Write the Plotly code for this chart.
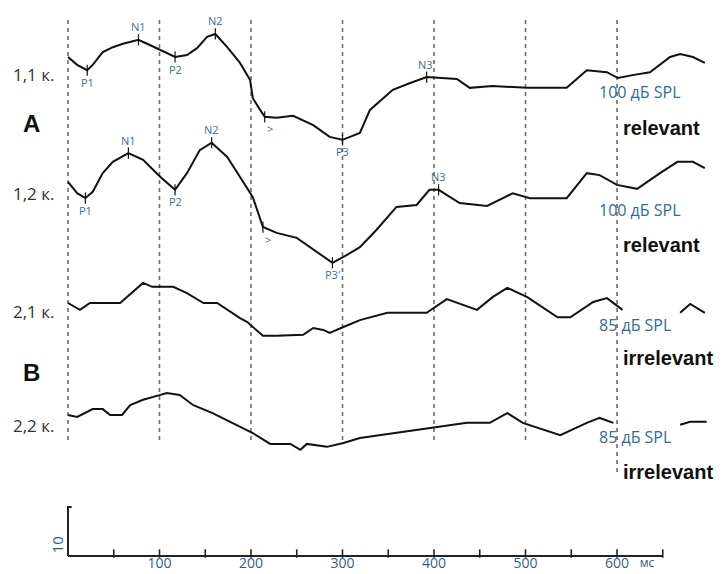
import numpy as np
import plotly.graph_objects as go

# ---- data (time in ms, amplitude in µV) ----
t_11 = [0,10,21,27,38,49,60,77,90,101,117,130,141,152,161,174,188,199,202,210,215,228,246,268,286,300,319,
        330,355,374,392,425,439,464,502,545,567,589,601,617,636,658,669,683,696]
a_11 = [0,-1.6,-2.7,-1.6,1.0,2.0,2.7,3.5,2.4,1.4,0,0.4,1.8,4.1,4.7,2.0,-1.2,-4.7,-8.4,-10.8,-12.2,-12.4,-12.0,-13.9,-16.3,-16.9,-15.5,
        -10.8,-6.7,-5.3,-4.1,-4.5,-6.3,-5.9,-6.3,-6.3,-2.7,-3.1,-4.3,-3.7,-3.1,0,0.6,0,-1.2]

t_12 = [0,10,19,27,38,49,66,82,101,117,130,144,157,174,188,202,213,228,250,268,289,305,319,
        337,359,381,395,405,428,458,486,505,545,567,581,600,622,647,666,683,696]
a_12 = [-0.4,-2.7,-3.7,-2.4,1.4,3.7,5.5,4.1,0.6,-2.0,1.4,6.1,7.6,4.7,0.6,-3.5,-9.6,-10.8,-11.8,-14.1,-16.9,-15.3,-13.7,
        -10.2,-5.5,-5.1,-2.0,-2.0,-4.7,-5.3,-2.7,-3.7,-3.7,1.4,1.0,-1.0,-1.8,1.4,3.7,3.7,2.4]

t_21 = [0,13,24,57,82,92,115,130,148,163,188,196,213,228,257,268,279,286,301,319,
        349,392,414,447,464,480,502,535,549,574,589,606,630,669,680,696]
a_21 = [0,-1.4,0,0,4.1,3.3,3.3,2.0,0,0,-3.1,-3.9,-6.7,-6.7,-6.5,-5.1,-5.5,-6.1,-4.9,-3.5,
        -2.0,-2.0,0.8,-1.4,1.2,3.1,1.2,-2.9,-2.9,0.2,1.0,-1.4,None,-2.0,-0.2,-2.0]

t_22 = [0,10,27,38,46,59,68,82,101,108,122,137,158,180,202,221,243,254,261,283,301,319,
        341,392,436,461,480,497,538,567,581,596,630,669,680,698]
a_22 = [0,-0.4,1.2,1.2,0,0,2.0,3.1,4.1,4.5,4.1,2.0,0.4,-1.6,-3.7,-5.9,-5.9,-7.1,-5.9,-6.5,-5.7,-4.7,
        -4.1,-2.7,-1.6,-1.6,0.4,-1.6,-4.1,-1.6,-0.6,-1.6,None,-2.0,-1.4,-1.4]

row_labels = ["1,1 к.", "1,2 к.", "2,1 к.", "2,2 к."]
level_labels = ["100 дБ SPL", "100 дБ SPL", "85 дБ SPL", "85 дБ SPL"]
cond_labels = ["relevant", "relevant", "irrelevant", "irrelevant"]
group_labels = ["A", "B"]

# peaks: (trace index, label, time ms, above?)
peaks = [
    (0, "P1", 21, False), (0, "N1", 77, True), (0, "P2", 117, False), (0, "N2", 161, True),
    (0, ">", 215, False), (0, "P3", 300, False), (0, "N3'", 392, True),
    (1, "P1", 19, False), (1, "N1", 66, True), (1, "P2", 117, False), (1, "N2", 157, True),
    (1, ">", 213, False), (1, "P3'", 289, False), (1, "N3", 405, True),
]

grid_ms = [0, 100, 200, 300, 400, 500, 600]
tick_ms = [0, 50, 100, 150, 200, 250, 300, 350, 400, 450, 500, 550, 600, 650]
tick_labels = ["100", "200", "300", "400", "500", "600"]
tick_label_ms = [100, 200, 300, 400, 500, 600]
unit_label = "мс"
scale_uv = 10

# ---- layout geometry (reference pixel positions, page has 8px body margin) ----
PAGE_OFF = 8
W, H = 722 - PAGE_OFF, 574 - PAGE_OFF
PX_PER_MS = 0.915
X0_PX = 68 - PAGE_OFF
PX_PER_UV = 4.9
YMAX = H / PX_PER_UV


def py(px):
    return YMAX - (px - PAGE_OFF) / PX_PER_UV


def pxms(px):
    return (px - 68) / PX_PER_MS


def fx(px):
    return (px - PAGE_OFF) / W


def fy(px):
    return 1 - (px - PAGE_OFF) / H


baselines_px = [57, 180, 303, 415]
offsets = [py(b) for b in baselines_px]
axis_y = py(556)

xr = [-X0_PX / PX_PER_MS, (W - X0_PX) / PX_PER_MS]

fig = go.Figure()

# dashed grid lines
for g in grid_ms:
    fig.add_shape(type="line", x0=g, x1=g, y0=py(20), y1=py(472 if g == 600 else 443),
                  line=dict(color="#6e6e6e", width=1.6, dash="4px,4px"), layer="below")

series = [(t_11, a_11), (t_12, a_12), (t_21, a_21), (t_22, a_22)]
for k, (t, a) in enumerate(series):
    y = [None if v is None else v + offsets[k] for v in a]
    fig.add_trace(go.Scatter(x=t, y=y, mode="lines", line=dict(color="#111111", width=2),
                             connectgaps=False, hoverinfo="skip", showlegend=False))

# peak markers and labels
pk_color = "#3f6f8c"
for k, lab, tm, above in peaks:
    t, a = series[k]
    tt = [ti for ti, v in zip(t, a) if v is not None]
    aa = [v for v in a if v is not None]
    yv = float(np.interp(tm, tt, aa)) + offsets[k]
    fig.add_trace(go.Scatter(x=[tm], y=[yv], mode="markers",
                             marker=dict(symbol="line-ns", size=8, line=dict(color="#111", width=1.2)),
                             hoverinfo="skip", showlegend=False))
    fig.add_annotation(x=tm, y=yv, text=lab, showarrow=False,
                       xshift=(5 if lab == ">" else 0),
                       yshift=(13 if above else -12), font=dict(size=11, color=pk_color, family="Open Sans"))

# row labels
row_px = [75, 193, 311, 425]
for lab, yp in zip(row_labels, row_px):
    fig.add_annotation(xref="paper", yref="paper", x=fx(11), y=fy(yp), text=lab, showarrow=False,
                       xanchor="left", yanchor="middle", font=dict(size=17, color="#3a2f2f", family="Open Sans"))

for lab, yp in zip(group_labels, [123, 372]):
    fig.add_annotation(xref="paper", yref="paper", x=fx(21), y=fy(yp), text="<b>%s</b>" % lab,
                       showarrow=False, xanchor="left", yanchor="middle",
                       font=dict(size=24, color="#111", family="Liberation Sans"))

lvl_px = [(597, 92), (597, 210), (597, 325), (597, 437)]
cond_px = [(621, 128), (621, 245), (621, 358), (621, 472)]
for lab, (xp, yp) in zip(level_labels, lvl_px):
    fig.add_annotation(xref="paper", yref="paper", x=fx(xp), y=fy(yp), text=lab, showarrow=False,
                       xanchor="left", yanchor="middle", font=dict(size=16, color="#2f6e96", family="Open Sans"))
for lab, (xp, yp) in zip(cond_labels, cond_px):
    fig.add_annotation(xref="paper", yref="paper", x=fx(xp), y=fy(yp), text="<b>%s</b>" % lab,
                       showarrow=False, xanchor="left", yanchor="middle",
                       font=dict(size=20, color="#111", family="Liberation Sans"))

# bottom axis
fig.add_trace(go.Scatter(x=[tick_ms[0], tick_ms[-1]], y=[axis_y, axis_y], mode="lines",
                         line=dict(color="#222", width=2), hoverinfo="skip", showlegend=False))
fig.add_trace(go.Scatter(x=tick_ms[1:], y=[axis_y + 0.5] * (len(tick_ms) - 1), mode="markers",
                         marker=dict(symbol="line-ns", size=6, line=dict(color="#222", width=1.6)),
                         hoverinfo="skip", showlegend=False))
fig.add_trace(go.Scatter(x=tick_label_ms, y=[py(557)] * len(tick_label_ms), mode="text",
                         text=tick_labels, textposition="bottom center",
                         textfont=dict(size=14, color="#2f5f86", family="Open Sans"),
                         hoverinfo="skip", showlegend=False))
fig.add_trace(go.Scatter(x=[pxms(647)], y=[py(558)], mode="text",
                         text=[unit_label], textposition="bottom center",
                         textfont=dict(size=12, color="#2f5f86", family="Open Sans"),
                         hoverinfo="skip", showlegend=False))

# scale bar
fig.add_trace(go.Scatter(x=[4, 0, 0], y=[axis_y + scale_uv, axis_y + scale_uv, axis_y], mode="lines",
                         line=dict(color="#222", width=2), hoverinfo="skip", showlegend=False))
fig.add_annotation(x=0, y=axis_y + 2.2, text=str(scale_uv), showarrow=False, textangle=-90,
                   xshift=-11, font=dict(size=15, color="#2f5f86", family="Open Sans"))

fig.update_layout(
    width=W, height=H, margin=dict(l=0, r=0, t=0, b=0, autoexpand=False),
    paper_bgcolor="white", plot_bgcolor="white", showlegend=False,
    xaxis=dict(range=xr, visible=False, fixedrange=True),
    yaxis=dict(range=[0, YMAX], visible=False, fixedrange=True),
)

fig.write_html("out.html")
